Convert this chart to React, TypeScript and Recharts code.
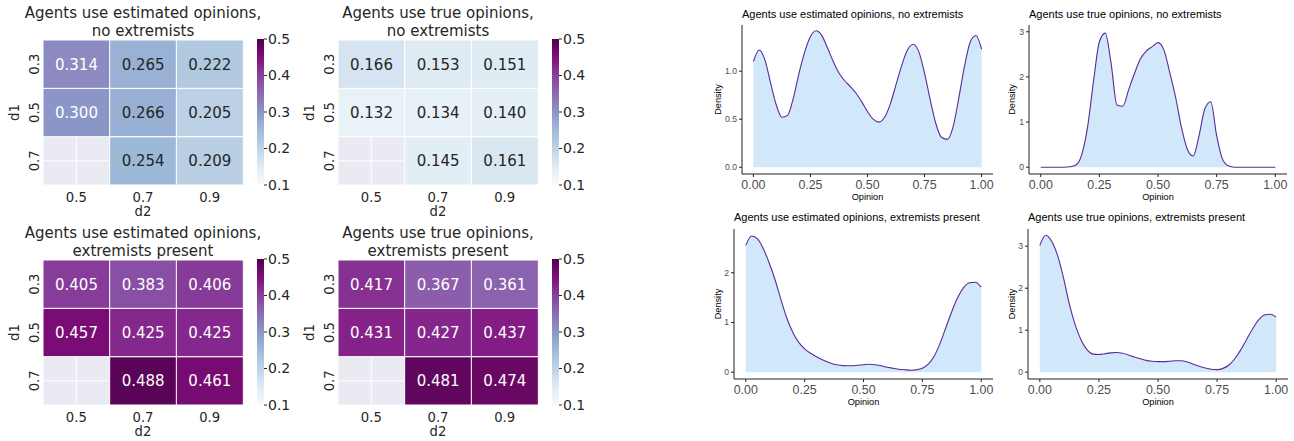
import React from "react";
import { BarChart, Bar, XAxis, YAxis, CartesianGrid, AreaChart, Area } from "recharts";

// heatmap axes
const d2Labels = ["0.5", "0.7", "0.9"];
const d1Labels = ["0.3", "0.5", "0.7"];
const colorbarTicks = [0.1, 0.2, 0.3, 0.4, 0.5];

// rows are d1 = 0.3, 0.5, 0.7 ; columns are d2 = 0.5, 0.7, 0.9
const estNoExtremists = [
  [0.314, 0.265, 0.222],
  [0.3, 0.266, 0.205],
  [null, 0.254, 0.209],
];
const trueNoExtremists = [
  [0.166, 0.153, 0.151],
  [0.132, 0.134, 0.14],
  [null, 0.145, 0.161],
];
const estExtremists = [
  [0.405, 0.383, 0.406],
  [0.457, 0.425, 0.425],
  [null, 0.488, 0.461],
];
const trueExtremists = [
  [0.417, 0.367, 0.361],
  [0.431, 0.427, 0.437],
  [null, 0.481, 0.474],
];

// density curves
const opinion = [
  0, 0.025, 0.05, 0.075, 0.1, 0.125, 0.15, 0.175, 0.2, 0.225, 0.25, 0.275, 0.3, 0.325, 0.35, 0.375, 0.4, 0.425,
  0.45, 0.475, 0.5, 0.525, 0.55, 0.575, 0.6, 0.625, 0.65, 0.675, 0.7, 0.725, 0.75, 0.775, 0.8, 0.825, 0.85, 0.875,
  0.9, 0.925, 0.95, 0.975, 1,
];
const densEstNoExt = [
  1.1, 1.22, 1.12, 0.88, 0.65, 0.52, 0.54, 0.72, 0.98, 1.2, 1.36, 1.42, 1.37, 1.24, 1.1, 0.98, 0.9, 0.84, 0.77, 0.68,
  0.58, 0.5, 0.47, 0.52, 0.66, 0.86, 1.06, 1.22, 1.28, 1.2, 0.98, 0.7, 0.45, 0.31, 0.29, 0.42, 0.72, 1.05, 1.3, 1.37,
  1.23,
];
const densTrueNoExt = [
  0, 0, 0, 0, 0, 0.01, 0.05, 0.28, 0.9, 1.9, 2.78, 2.97, 2.3, 1.38, 1.35, 1.72, 2.08, 2.4, 2.57, 2.67, 2.76, 2.6,
  2.1, 1.55, 0.88, 0.4, 0.25, 0.7, 1.3, 1.45, 0.7, 0.18, 0.03, 0, 0, 0, 0, 0, 0, 0, 0,
];
const densEstExt = [
  2.55, 2.74, 2.68, 2.48, 2.19, 1.85, 1.45, 1.08, 0.8, 0.6, 0.47, 0.38, 0.31, 0.25, 0.2, 0.16, 0.14, 0.13, 0.13, 0.14,
  0.15, 0.16, 0.15, 0.13, 0.1, 0.08, 0.06, 0.05, 0.04, 0.05, 0.08, 0.16, 0.32, 0.58, 0.9, 1.22, 1.5, 1.7, 1.8, 1.81,
  1.71,
];
const densTrueExt = [
  3.02, 3.26, 3.12, 2.78, 2.25, 1.62, 1.12, 0.76, 0.53, 0.43, 0.42, 0.44, 0.46, 0.47, 0.45, 0.41, 0.36, 0.32, 0.28,
  0.26, 0.25, 0.25, 0.26, 0.27, 0.27, 0.24, 0.19, 0.14, 0.1, 0.07, 0.06, 0.09, 0.17, 0.32, 0.53, 0.78, 1.03, 1.24,
  1.36, 1.38, 1.31,
];
const opinionTicks = [0, 0.25, 0.5, 0.75, 1];

const BUPU = ["#f7fcfd", "#e0ecf4", "#bfd3e6", "#9ebcda", "#8c96c6", "#8c6bb1", "#88419d", "#810f7c", "#4d004b"];
const HM_FONT = '"DejaVu Sans", sans-serif';
const GG_FONT = '"Liberation Sans", Arial, sans-serif';
const INK = "#262626";
const GG_GREY = "#4d4d4d";

const hex = (c: string) => [1, 3, 5].map((i) => parseInt(c.slice(i, i + 2), 16));

function bupu(v: number) {
  const t = Math.min(1, Math.max(0, (v - 0.1) / 0.4)) * (BUPU.length - 1);
  const i = Math.min(BUPU.length - 2, Math.floor(t));
  const f = t - i;
  const a = hex(BUPU[i]);
  const b = hex(BUPU[i + 1]);
  return `rgb(${a.map((c, k) => Math.round(c + (b[k] - c) * f)).join(",")})`;
}

function labelColor(rgb: string) {
  const [r, g, b] = rgb.match(/\d+/g)!.map((n) => {
    const c = Number(n) / 255;
    return c <= 0.03928 ? c / 12.92 : Math.pow((c + 0.055) / 1.055, 2.4);
  });
  return 0.2126 * r + 0.7152 * g + 0.0722 * b < 0.408 ? "#fff" : INK;
}

function Heatmap({ id, title, values, left, top }: any) {
  const rows = d2Labels.map((d2) => ({ d2, r0: 1, r1: 1, r2: 1 }));
  const cell = (row: number) => (p: any) => {
    const v = values[row][p.index];
    if (v == null) return <g />;
    const fill = bupu(v);
    return (
      <g>
        <rect x={p.x} y={p.y} width={p.width} height={p.height} fill={fill} stroke="#fff" strokeWidth={1} />
        <text
          x={p.x + p.width / 2}
          y={p.y + p.height / 2 + 5.5}
          textAnchor="middle"
          fontSize={15}
          fontFamily={HM_FONT}
          fill={labelColor(fill)}
        >
          {v.toFixed(3)}
        </text>
      </g>
    );
  };
  return (
    <>
      <div
        style={{
          position: "absolute",
          left,
          top: top + 4,
          width: 286,
          textAlign: "center",
          fontFamily: HM_FONT,
          fontSize: 15,
          lineHeight: "18px",
          color: INK,
        }}
      >
        {title[0]}
        <br />
        {title[1]}
      </div>
      <div style={{ position: "absolute", left, top }}>
        <BarChart width={250} height={220} data={rows} margin={{ top: 40, right: 7, bottom: 0, left: 3 }} barCategoryGap={0} barGap={0}>
          <CartesianGrid fill="#eaeaf2" fillOpacity={1} stroke="#fff" strokeWidth={1} />
          <XAxis
            dataKey="d2"
            height={35}
            axisLine={false}
            tickLine={false}
            tickSize={0}
            tickMargin={0}
            tick={(p: any) => (
              <text x={p.x} y={p.y + 17} textAnchor="middle" fontSize={13.2} fontFamily={HM_FONT} fill={INK}>
                {p.payload.value}
              </text>
            )}
            label={{ value: "d2", position: "insideBottom", offset: 4, style: { fontSize: 13.2, fontFamily: HM_FONT, fill: INK } }}
          />
          <YAxis
            type="number"
            domain={[0, 3]}
            ticks={[0.5, 1.5, 2.5]}
            width={40}
            axisLine={false}
            tickLine={false}
            tickSize={0}
            tickMargin={0}
            allowDataOverflow
            tick={(p: any) => (
              <text
                x={p.x - 4}
                y={p.y}
                transform={`rotate(-90, ${p.x - 4}, ${p.y})`}
                textAnchor="middle"
                fontSize={13.2}
                fontFamily={HM_FONT}
                fill={INK}
              >
                {d1Labels[2 - Math.floor(p.payload.value)]}
              </text>
            )}
            label={{ value: "d1", angle: -90, position: "center", dx: -9, style: { fontSize: 13.2, fontFamily: HM_FONT, fill: INK } }}
          />
          <Bar dataKey="r2" stackId="a" shape={cell(2)} isAnimationActive={false} />
          <Bar dataKey="r1" stackId="a" shape={cell(1)} isAnimationActive={false} />
          <Bar dataKey="r0" stackId="a" shape={cell(0)} isAnimationActive={false} />
        </BarChart>
      </div>
      <div style={{ position: "absolute", left: left + 257, top }}>
        <BarChart width={43} height={220} data={[{ k: "cb", range: [colorbarTicks[0], colorbarTicks[4]] }]} margin={{ top: 39, right: 0, bottom: 35, left: 0 }} barCategoryGap={0}>
          <defs>
            <linearGradient id={`cb-${id}`} x1="0" y1="1" x2="0" y2="0">
              {BUPU.map((c, i) => (
                <stop key={c} offset={i / (BUPU.length - 1)} stopColor={c} />
              ))}
            </linearGradient>
          </defs>
          <XAxis dataKey="k" hide />
          <YAxis
            orientation="right"
            type="number"
            domain={[0.1, 0.5]}
            ticks={colorbarTicks}
            width={36}
            axisLine={false}
            tickSize={3}
            tickMargin={1}
            stroke={INK}
            tickFormatter={(v: number) => v.toFixed(1)}
            tick={{ fontSize: 14, fontFamily: HM_FONT, fill: INK }}
          />
          <Bar dataKey="range" fill={`url(#cb-${id})`} isAnimationActive={false} />
        </BarChart>
      </div>
    </>
  );
}

function Density({ title, ys, yDomain, yTicks, yDigits, left, top, width, height, mTop, mRight, mBottom, yw, labelX, titleTop }: any) {
  const data = opinion.map((x, i) => ({ x, y: ys[i] }));
  return (
    <>
      <div
        style={{
          position: "absolute",
          left: left + yw,
          top: titleTop,
          fontFamily: GG_FONT,
          fontSize: 11,
          lineHeight: "13px",
          color: "#000",
          whiteSpace: "nowrap",
        }}
      >
        {title}
      </div>
      <div style={{ position: "absolute", left, top }}>
        <AreaChart width={width} height={height} data={data} margin={{ top: mTop, right: mRight, bottom: mBottom, left: 0 }}>
          <XAxis
            dataKey="x"
            type="number"
            domain={[-0.05, 1.05]}
            ticks={opinionTicks}
            allowDataOverflow
            height={36}
            stroke="#222"
            tickSize={3}
            tickMargin={2}
            tick={(p: any) => (
              <text x={p.x} y={p.y + 9.5} textAnchor="middle" fontSize={12.4} fontFamily={GG_FONT} fill={GG_GREY}>
                {Number(p.payload.value).toFixed(2)}
              </text>
            )}
            label={{ value: "Opinion", position: "insideBottom", offset: 10.5, style: { fontSize: 9.2, fontFamily: GG_FONT, fill: "#000" } }}
          />
          <YAxis
            type="number"
            domain={yDomain}
            ticks={yTicks}
            allowDataOverflow
            width={yw}
            stroke="#222"
            tickSize={3}
            tickMargin={2}
            tick={(p: any) => (
              <text x={p.x} y={p.y + 3} textAnchor="end" fontSize={8.6} fontFamily={GG_FONT} fill={GG_GREY}>
                {Number(p.payload.value).toFixed(yDigits)}
              </text>
            )}
            label={{ value: "Density", angle: -90, position: "center", dx: labelX - yw / 2, style: { fontSize: 9.2, fontFamily: GG_FONT, fill: "#000" } }}
          />
          <Area
            type="monotone"
            dataKey="y"
            stroke="#5b2a96"
            strokeWidth={1.1}
            fill="#d1e8fb"
            fillOpacity={1}
            baseValue={0}
            dot={false}
            activeDot={false}
            isAnimationActive={false}
          />
        </AreaChart>
      </div>
    </>
  );
}

export default function App() {
  return (
    <div style={{ position: "absolute", left: 0, top: 0, width: 1294, height: 441, background: "#fff", overflow: "hidden" }}>
      <Heatmap id="a" title={["Agents use estimated opinions,", "no extremists"]} values={estNoExtremists} left={0} top={0} />
      <Heatmap id="b" title={["Agents use true opinions,", "no extremists"]} values={trueNoExtremists} left={295} top={0} />
      <Heatmap id="c" title={["Agents use estimated opinions,", "extremists present"]} values={estExtremists} left={0} top={220} />
      <Heatmap id="d" title={["Agents use true opinions,", "extremists present"]} values={trueExtremists} left={295} top={220} />

      <Density title="Agents use estimated opinions, no extremists" ys={densEstNoExt} yDomain={[-0.07, 1.48]} yTicks={[0, 0.5, 1]} yDigits={1}
        left={690} top={0} width={310} height={210} mTop={25} mRight={7} mBottom={0} yw={52} labelX={28} titleTop={8} />
      <Density title="Agents use true opinions, no extremists" ys={densTrueNoExt} yDomain={[-0.15, 3.15]} yTicks={[0, 1, 2, 3]} yDigits={0}
        left={990} top={0} width={304} height={210} mTop={25} mRight={7} mBottom={0} yw={39} labelX={22} titleTop={8} />
      <Density title="Agents use estimated opinions, extremists present" ys={densEstExt} yDomain={[-0.137, 2.88]} yTicks={[0, 1, 2]} yDigits={0}
        left={690} top={210} width={310} height={231} mTop={19} mRight={7} mBottom={26} yw={44} labelX={28} titleTop={211} />
      <Density title="Agents use true opinions, extremists present" ys={densTrueExt} yDomain={[-0.163, 3.41]} yTicks={[0, 1, 2, 3]} yDigits={0}
        left={990} top={210} width={304} height={231} mTop={19} mRight={6} mBottom={26} yw={38} labelX={22} titleTop={211} />
    </div>
  );
}
